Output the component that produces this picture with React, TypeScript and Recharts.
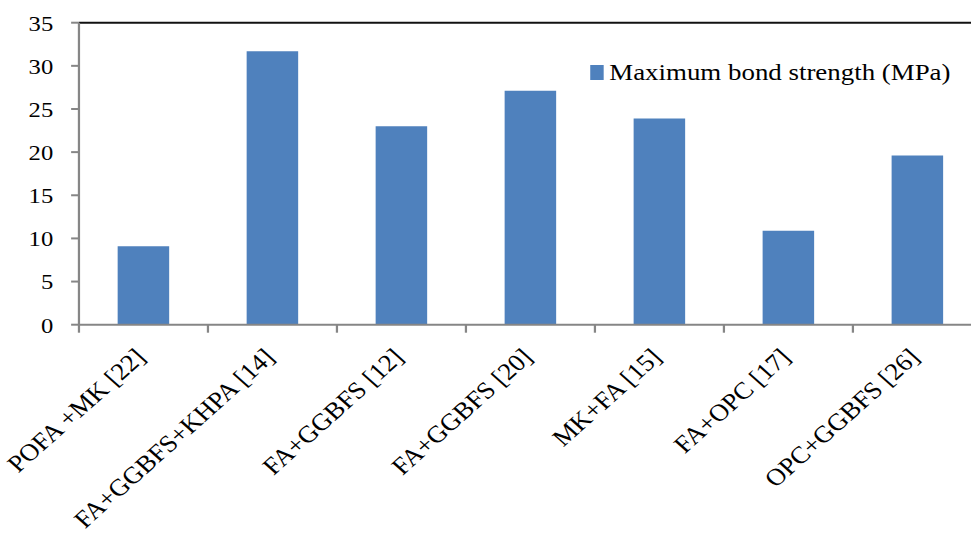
import { BarChart, Bar, XAxis, YAxis, ReferenceLine } from 'recharts';

const mixes = [
  'POFA +MK [22]',
  'FA+GGBFS+KHPA [14]',
  'FA+GGBFS [12]',
  'FA+GGBFS [20]',
  'MK+FA [15]',
  'FA+OPC [17]',
  'OPC+GGBFS [26]',
];
const bondStrength = [9.1, 31.7, 23.0, 27.1, 23.9, 10.9, 19.6];
const yTicks = [0, 5, 10, 15, 20, 25, 30, 35];
const seriesName = 'Maximum bond strength (MPa)';

const data = mixes.map((mix, i) => ({ mix, strength: bondStrength[i] }));

// the source picture is stretched sideways, so the chart is drawn narrow and scaled on x
const STRETCH = 1.12;
const FONT = '"Liberation Serif", "Times New Roman", serif';
const AXIS_GREY = '#868686';
const BAR_BLUE = '#4F81BD';

function CategoryTick(props: any) {
  const { x, y, payload } = props;
  const half = payload?.offset || 57.6;
  const tx = x + 3;
  const ty = y + 34;
  return (
    <g>
      <line x1={x - half} x2={x - half} y1={y} y2={y + 8} stroke={AXIS_GREY} strokeWidth={2} />
      {payload.index === mixes.length - 1 && (
        <line x1={x + half} x2={x + half} y1={y} y2={y + 8} stroke={AXIS_GREY} strokeWidth={2} />
      )}
      <text
        x={tx}
        y={ty}
        textAnchor="end"
        transform={`rotate(-45, ${tx}, ${ty})`}
        fontFamily={FONT}
        fontSize={24}
        fill="#000"
      >
        {payload.value}
      </text>
    </g>
  );
}

export default function App() {
  return (
    <div style={{ position: 'fixed', left: 0, top: 0, width: 971, height: 547, overflow: 'hidden', background: '#fff' }}>
      <div style={{ position: 'relative', width: 880, height: 547, transform: `scaleX(${STRETCH})`, transformOrigin: '0 0' }}>
        <BarChart
          width={880}
          height={547}
          data={data}
          margin={{ top: 22.7, right: 3.3, bottom: 0, left: 10 }}
          barCategoryGap="30%"
        >
          <ReferenceLine y={35} stroke="#111" strokeWidth={2} />
          <XAxis
            dataKey="mix"
            interval={0}
            height={222.3}
            axisLine={{ stroke: AXIS_GREY, strokeWidth: 2 }}
            tickLine={false}
            tickSize={0}
            tickMargin={0}
            tick={<CategoryTick />}
          />
          <YAxis
            width={60.5}
            domain={[0, 35]}
            ticks={yTicks}
            interval={0}
            axisLine={{ stroke: AXIS_GREY, strokeWidth: 2 }}
            tickLine={{ stroke: AXIS_GREY, strokeWidth: 2 }}
            tickSize={7}
            tickMargin={16}
            tick={{ fill: '#000', fontFamily: FONT, fontSize: 22 }}
          />
          <Bar dataKey="strength" name={seriesName} fill={BAR_BLUE} isAnimationActive={false} />
        </BarChart>
        <div
          style={{
            position: 'absolute',
            top: 58,
            left: 527,
            display: 'flex',
            alignItems: 'center',
            fontFamily: FONT,
            fontSize: 24,
            lineHeight: '28px',
            color: '#000',
            whiteSpace: 'nowrap',
          }}
        >
          <span style={{ display: 'inline-block', width: 12, height: 15, background: BAR_BLUE, marginRight: 5 }} />
          <span>{seriesName}</span>
        </div>
      </div>
    </div>
  );
}
